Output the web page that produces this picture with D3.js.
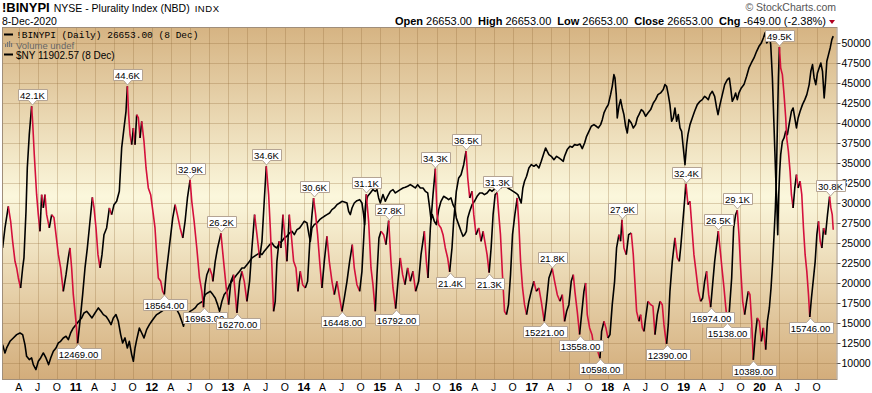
<!DOCTYPE html>
<html>
<head>
<meta charset="utf-8">
<script src="https://cdn.jsdelivr.net/npm/d3@7"></script>
<style>
  body { margin: 0; background: #fff; }
  text { font-family: "Liberation Sans", Arial, sans-serif; }
</style>
</head>
<body>
<div id="chart"></div>
<script>
// !BINYPI plurality index, dates as decimal years
var binTimes = [
  2010.035, 2010.066, 2010.110, 2010.141, 2010.167, 2010.198, 2010.220, 2010.242, 2010.272, 2010.299,
  2010.316, 2010.343, 2010.360, 2010.386, 2010.417, 2010.430, 2010.452, 2010.483, 2010.505, 2010.527,
  2010.549, 2010.571, 2010.593, 2010.615, 2010.650, 2010.681, 2010.711, 2010.738, 2010.769, 2010.799,
  2010.834, 2010.870, 2010.900, 2010.922, 2010.944, 2010.966, 2011.001, 2011.023, 2011.054, 2011.089,
  2011.120, 2011.151, 2011.177, 2011.217, 2011.239, 2011.265, 2011.291, 2011.318, 2011.344, 2011.370,
  2011.405, 2011.441, 2011.471, 2011.502, 2011.537, 2011.572, 2011.603, 2011.634, 2011.660, 2011.678,
  2011.695, 2011.713, 2011.735, 2011.757, 2011.779, 2011.801, 2011.823, 2011.845, 2011.867, 2011.897,
  2011.924, 2011.954, 2011.985, 2012.020, 2012.042, 2012.064, 2012.086, 2012.117, 2012.143, 2012.165,
  2012.187, 2012.218, 2012.249, 2012.275, 2012.306, 2012.336, 2012.372, 2012.407, 2012.437, 2012.468,
  2012.503, 2012.525, 2012.556, 2012.591, 2012.626, 2012.657, 2012.679, 2012.701, 2012.723, 2012.758,
  2012.789, 2012.802, 2012.833, 2012.864, 2012.908, 2012.943, 2012.978, 2013.009, 2013.039, 2013.074,
  2013.118, 2013.154, 2013.184, 2013.215, 2013.250, 2013.285, 2013.316, 2013.351, 2013.382, 2013.417,
  2013.448, 2013.478, 2013.505, 2013.536, 2013.558, 2013.580, 2013.601, 2013.623, 2013.645, 2013.672,
  2013.698, 2013.724, 2013.755, 2013.777, 2013.808, 2013.834, 2013.865, 2013.896, 2013.922, 2013.953,
  2013.984, 2014.019, 2014.049, 2014.076, 2014.107, 2014.128, 2014.155, 2014.181, 2014.208, 2014.238,
  2014.269, 2014.304, 2014.335, 2014.370, 2014.401, 2014.436, 2014.471, 2014.502, 2014.533, 2014.568,
  2014.603, 2014.638, 2014.664, 2014.699, 2014.735, 2014.765, 2014.796, 2014.822, 2014.853, 2014.884,
  2014.910, 2014.941, 2014.963, 2014.989, 2015.016, 2015.051, 2015.081, 2015.117, 2015.147, 2015.174,
  2015.209, 2015.240, 2015.270, 2015.301, 2015.332, 2015.367, 2015.402, 2015.437, 2015.472, 2015.512,
  2015.543, 2015.587, 2015.613, 2015.635, 2015.666, 2015.701, 2015.732, 2015.754, 2015.776, 2015.806,
  2015.833, 2015.863, 2015.894, 2015.920, 2015.951, 2015.973, 2016.008, 2016.039, 2016.070, 2016.105,
  2016.136, 2016.158, 2016.184, 2016.215, 2016.237, 2016.267, 2016.303, 2016.333, 2016.360, 2016.390,
  2016.412, 2016.439, 2016.465, 2016.491, 2016.518, 2016.544, 2016.566, 2016.588, 2016.614, 2016.641,
  2016.667, 2016.693, 2016.720, 2016.746, 2016.777, 2016.808, 2016.830, 2016.852, 2016.878, 2016.904,
  2016.931, 2016.961, 2016.992, 2017.027, 2017.058, 2017.093, 2017.124, 2017.163, 2017.194, 2017.225,
  2017.269, 2017.300, 2017.335, 2017.370, 2017.401, 2017.431, 2017.458, 2017.488, 2017.519, 2017.546,
  2017.567, 2017.598, 2017.629, 2017.655, 2017.686, 2017.708, 2017.730, 2017.761, 2017.792, 2017.818,
  2017.849, 2017.875, 2017.897, 2017.919, 2017.950, 2017.976, 2018.002, 2018.029, 2018.059, 2018.090,
  2018.116, 2018.147, 2018.169, 2018.187, 2018.213, 2018.244, 2018.275, 2018.310, 2018.336, 2018.354,
  2018.380, 2018.411, 2018.433, 2018.455, 2018.477, 2018.499, 2018.529, 2018.565, 2018.595, 2018.622,
  2018.652, 2018.688, 2018.718, 2018.740, 2018.762, 2018.775, 2018.797, 2018.819, 2018.850, 2018.885,
  2018.916, 2018.942, 2018.960, 2018.982, 2019.004, 2019.030, 2019.056, 2019.083, 2019.109, 2019.135,
  2019.162, 2019.193, 2019.223, 2019.250, 2019.276, 2019.302, 2019.329, 2019.355, 2019.381, 2019.408,
  2019.434, 2019.456, 2019.478, 2019.504, 2019.531, 2019.553, 2019.575, 2019.601, 2019.632, 2019.658,
  2019.684, 2019.706, 2019.728, 2019.750, 2019.777, 2019.803, 2019.829, 2019.851, 2019.873, 2019.895,
  2019.917, 2019.944, 2019.970, 2019.996, 2020.023, 2020.049, 2020.080, 2020.102, 2020.128, 2020.150,
  2020.172, 2020.190, 2020.207, 2020.220, 2020.233, 2020.247, 2020.260, 2020.277, 2020.299, 2020.321,
  2020.343, 2020.356, 2020.378, 2020.400, 2020.418, 2020.440, 2020.462, 2020.484, 2020.506, 2020.532,
  2020.554, 2020.576, 2020.598, 2020.620, 2020.642, 2020.659, 2020.681, 2020.708, 2020.730, 2020.752,
  2020.774, 2020.796, 2020.818, 2020.840, 2020.866, 2020.892, 2020.919, 2020.936, 2020.954, 2020.967
];
var binValues = [
  24380, 26880, 29580, 27710, 25210, 22710, 21880, 20630, 19380, 21880,
  23130, 28960, 34380, 38540, 42100, 40210, 36040, 31040, 28540, 26460,
  31040, 29380, 31040, 28540, 26880, 28540, 28200, 26040, 23540, 21880,
  18960, 21040, 23130, 24380, 21880, 18540, 15210, 12469, 15210, 18540,
  21880, 24380, 26880, 30710, 29380, 26880, 23540, 21880, 23540, 26040,
  26880, 29380, 28540, 29790, 30210, 31460, 36880, 39380, 41460, 44600,
  41040, 38540, 37290, 39380, 37290, 41040, 40630, 38130, 40210, 37710,
  34380, 31880, 31040, 28540, 26880, 23540, 20630, 20210, 18960, 18564,
  21040, 23540, 26040, 28130, 29790, 28540, 26880, 25630, 27710, 30630,
  32900, 30210, 27710, 24380, 20630, 18960, 16963, 19790, 21040, 21880,
  21040, 20210, 22710, 24380, 26200, 22710, 19380, 17290, 20210, 21040,
  16270, 20210, 21460, 20210, 17710, 20210, 24380, 28540, 26040, 23130,
  25210, 30210, 34600, 31040, 26880, 21880, 16460, 17710, 22710, 25210,
  24380, 28540, 25210, 22710, 28540, 26040, 22710, 21880, 18960, 21460,
  19790, 19380, 20210, 24790, 28540, 30600, 28540, 26040, 22710, 19380,
  22710, 25830, 22710, 20210, 18540, 20210, 18130, 16448, 18130, 20210,
  22710, 24790, 21880, 19790, 18960, 21460, 26880, 31100, 27710, 21880,
  19790, 16460, 21040, 25630, 26460, 26040, 24790, 27800, 22710, 19380,
  16792, 20210, 23130, 21040, 19790, 21880, 20210, 21460, 18960, 20210,
  23540, 26460, 22710, 20630, 26880, 31040, 34300, 28540, 27290, 26880,
  26040, 24380, 23130, 21400, 24380, 27710, 31460, 33130, 33540, 34790,
  36500, 33130, 30630, 31460, 28540, 26040, 26880, 25210, 26460, 24790,
  23540, 21300, 24380, 28540, 31040, 31300, 28540, 26040, 21040, 16460,
  16040, 17290, 21040, 26040, 28540, 30630, 27290, 22710, 19380, 17290,
  16040, 17710, 18960, 20210, 18960, 19380, 17710, 15221, 17710, 20630,
  21800, 20210, 18540, 17710, 18540, 15210, 16460, 17290, 20210, 21040,
  18960, 16460, 13558, 16040, 18960, 20000, 16040, 14380, 13540, 11880,
  12290, 11250, 10598, 13960, 15210, 14380, 13130, 13540, 17290, 20210,
  24380, 26040, 25210, 27900, 24380, 23540, 26040, 26250, 23540, 20630,
  16460, 15210, 16040, 14380, 13960, 15630, 17710, 17290, 17100, 13540,
  16040, 17710, 17290, 14790, 13130, 12390, 14790, 18960, 22710, 25630,
  23130, 22710, 24380, 26880, 29380, 32400, 29790, 30210, 26880, 23540,
  21460, 18960, 17710, 18130, 20210, 21460, 18540, 16974, 19790, 22710,
  24790, 26500, 24380, 21880, 19380, 17080, 15138, 16460, 20630, 26880,
  28540, 29100, 26040, 21880, 17710, 16040, 17710, 18960, 18540, 15210,
  10389, 13540, 15630, 15210, 12710, 14380, 11670, 15210, 16880, 19380,
  22710, 26040, 29380, 33130, 39380, 45630, 49500, 46880, 46040, 43540,
  40630, 38130, 36460, 33960, 31040, 29380, 31880, 33540, 31880, 32710,
  31040, 26880, 23540, 21460, 18540, 15746, 18130, 20630, 22710, 26040,
  27710, 25210, 24380, 26880, 26040, 28540, 30800, 29380, 28540, 26653
];

// $NY overlay, own (hidden) scale
var nyTimes = [
  2010.035, 2010.066, 2010.088, 2010.132, 2010.176, 2010.220, 2010.264, 2010.299, 2010.329, 2010.351,
  2010.386, 2010.417, 2010.439, 2010.474, 2010.505, 2010.536, 2010.571, 2010.606, 2010.641, 2010.668,
  2010.703, 2010.738, 2010.769, 2010.799, 2010.834, 2010.870, 2010.900, 2010.931, 2010.966, 2011.001,
  2011.037, 2011.076, 2011.107, 2011.142, 2011.177, 2011.212, 2011.252, 2011.296, 2011.331, 2011.362,
  2011.397, 2011.427, 2011.463, 2011.493, 2011.528, 2011.559, 2011.590, 2011.616, 2011.647, 2011.678,
  2011.704, 2011.735, 2011.757, 2011.779, 2011.801, 2011.836, 2011.867, 2011.897, 2011.932, 2011.968,
  2011.998, 2012.029, 2012.064, 2012.099, 2012.130, 2012.161, 2012.196, 2012.231, 2012.262, 2012.293,
  2012.328, 2012.363, 2012.394, 2012.416, 2012.438, 2012.468, 2012.503, 2012.539, 2012.569, 2012.600,
  2012.635, 2012.670, 2012.701, 2012.732, 2012.767, 2012.802, 2012.833, 2012.864, 2012.890, 2012.921,
  2012.951, 2012.987, 2013.022, 2013.052, 2013.083, 2013.118, 2013.154, 2013.184, 2013.215, 2013.250,
  2013.285, 2013.316, 2013.347, 2013.382, 2013.417, 2013.448, 2013.478, 2013.514, 2013.549, 2013.580,
  2013.610, 2013.645, 2013.681, 2013.711, 2013.742, 2013.777, 2013.812, 2013.843, 2013.874, 2013.909,
  2013.944, 2013.975, 2014.005, 2014.041, 2014.067, 2014.085, 2014.107, 2014.137, 2014.172, 2014.208,
  2014.238, 2014.269, 2014.304, 2014.339, 2014.370, 2014.401, 2014.436, 2014.471, 2014.502, 2014.533,
  2014.568, 2014.590, 2014.612, 2014.634, 2014.664, 2014.699, 2014.735, 2014.765, 2014.787, 2014.800,
  2014.814, 2014.840, 2014.875, 2014.910, 2014.941, 2014.963, 2014.985, 2015.007, 2015.042, 2015.073,
  2015.103, 2015.139, 2015.174, 2015.205, 2015.235, 2015.270, 2015.305, 2015.336, 2015.367, 2015.402,
  2015.437, 2015.468, 2015.499, 2015.534, 2015.569, 2015.600, 2015.631, 2015.657, 2015.675, 2015.692,
  2015.718, 2015.745, 2015.776, 2015.806, 2015.841, 2015.877, 2015.907, 2015.938, 2015.964, 2015.986,
  2016.008, 2016.039, 2016.070, 2016.096, 2016.118, 2016.140, 2016.158, 2016.184, 2016.215, 2016.246,
  2016.281, 2016.316, 2016.347, 2016.377, 2016.412, 2016.448, 2016.478, 2016.500, 2016.522, 2016.553,
  2016.588, 2016.623, 2016.654, 2016.685, 2016.720, 2016.755, 2016.786, 2016.816, 2016.843, 2016.860,
  2016.882, 2016.904, 2016.931, 2016.961, 2016.992, 2017.027, 2017.058, 2017.093, 2017.124, 2017.159,
  2017.181, 2017.203, 2017.225, 2017.256, 2017.291, 2017.326, 2017.357, 2017.387, 2017.414, 2017.431,
  2017.466, 2017.502, 2017.532, 2017.563, 2017.598, 2017.633, 2017.664, 2017.695, 2017.721, 2017.752,
  2017.783, 2017.818, 2017.849, 2017.875, 2017.906, 2017.928, 2017.950, 2017.980, 2018.007, 2018.037,
  2018.059, 2018.081, 2018.095, 2018.112, 2018.125, 2018.147, 2018.169, 2018.191, 2018.213, 2018.235,
  2018.257, 2018.279, 2018.310, 2018.336, 2018.367, 2018.389, 2018.411, 2018.442, 2018.468, 2018.499,
  2018.529, 2018.565, 2018.600, 2018.630, 2018.661, 2018.696, 2018.731, 2018.753, 2018.775, 2018.797,
  2018.819, 2018.841, 2018.863, 2018.885, 2018.907, 2018.929, 2018.951, 2018.973, 2018.995, 2019.017,
  2019.039, 2019.056, 2019.083, 2019.113, 2019.144, 2019.179, 2019.215, 2019.245, 2019.276, 2019.302,
  2019.324, 2019.346, 2019.377, 2019.408, 2019.434, 2019.452, 2019.478, 2019.509, 2019.540, 2019.575,
  2019.601, 2019.619, 2019.640, 2019.662, 2019.684, 2019.706, 2019.728, 2019.759, 2019.794, 2019.829,
  2019.860, 2019.891, 2019.926, 2019.961, 2019.992, 2020.023, 2020.049, 2020.071, 2020.093, 2020.111,
  2020.128, 2020.146, 2020.168, 2020.190, 2020.212, 2020.225, 2020.238, 2020.251, 2020.264, 2020.277,
  2020.299, 2020.321, 2020.343, 2020.365, 2020.387, 2020.418, 2020.440, 2020.462, 2020.484, 2020.506,
  2020.532, 2020.563, 2020.594, 2020.620, 2020.651, 2020.673, 2020.695, 2020.716, 2020.738, 2020.760,
  2020.782, 2020.804, 2020.826, 2020.848, 2020.866, 2020.883, 2020.905, 2020.927, 2020.949, 2020.967
];
var nyValues = [
  4792, 4600, 4715, 4869, 4946, 5023, 5061, 5023, 4792, 4524,
  4447, 4485, 4331, 4216, 4408, 4485, 4600, 4485, 4331, 4485,
  4638, 4715, 4831, 4869, 4946, 4984, 4907, 5061, 5176, 5253,
  5330, 5407, 5522, 5560, 5484, 5407, 5522, 5638, 5560, 5484,
  5445, 5368, 5253, 5407, 5484, 5330, 5023, 4831, 4946, 4715,
  4869, 4562, 4408, 4715, 4907, 5176, 5061, 4946, 5138, 5253,
  5330, 5407, 5484, 5522, 5560, 5599, 5599, 5638, 5676, 5638,
  5599, 5484, 5330, 5215, 5407, 5484, 5560, 5599, 5638, 5714,
  5753, 5791, 5945, 5983, 6021, 5945, 5868, 5714, 5560, 5791,
  5945, 6021, 6175, 6252, 6329, 6406, 6482, 6559, 6559, 6636,
  6713, 6790, 6828, 6867, 6905, 6867, 6943, 7020, 7097, 7135,
  7059, 7020, 7135, 7174, 7251, 7289, 7366, 7404, 7328, 7443,
  7481, 7558, 7635, 7597, 7328, 7174, 7481, 7558, 7597, 7673,
  7712, 7750, 7789, 7827, 7904, 7942, 8019, 8057, 8096, 8081,
  8057, 7865, 7789, 7942, 8057, 8111, 8134, 8057, 7789, 7558,
  8019, 8211, 8288, 8365, 8326, 8365, 8173, 8057, 8250, 8096,
  8211, 8326, 8365, 8288, 8326, 8365, 8403, 8419, 8442, 8480,
  8442, 8403, 8480, 8403, 8403, 8326, 8288, 7942, 7673, 7789,
  7635, 7558, 7904, 8096, 8211, 8173, 8134, 8173, 8019, 7942,
  7712, 7558, 7404, 7289, 7328, 7404, 7712, 7865, 8019, 8096,
  8211, 8288, 8288, 8250, 8288, 8365, 8326, 8365, 8403, 8442,
  8403, 8442, 8442, 8403, 8365, 8326, 8288, 8250, 8134, 8057,
  8403, 8557, 8672, 8864, 8941, 8903, 8941, 8864, 9018, 9210,
  9325, 9248, 9171, 9133, 9056, 9133, 9095, 9056, 9018, 9133,
  9287, 9364, 9341, 9402, 9387, 9417, 9310, 9440, 9594, 9709,
  9825, 9863, 9825, 9786, 9863, 9978, 10132, 10247, 10324, 10554,
  10746, 11015, 10938, 10554, 10017, 10286, 10439, 10247, 10093, 9825,
  9671, 9978, 9901, 9786, 9863, 10017, 10093, 10209, 10170, 10055,
  10132, 10209, 10362, 10439, 10554, 10593, 10670, 10785, 10747, 10554,
  10324, 9940, 10017, 10247, 9940, 10093, 9786, 9709, 9325, 8941,
  9402, 9632, 9863, 10017, 10170, 10324, 10401, 10439, 10516, 10478,
  10439, 10554, 10631, 10516, 10247, 10093, 10324, 10554, 10785, 10900,
  10938, 10708, 10401, 10478, 10593, 10439, 10593, 10708, 10785, 10977,
  11169, 11284, 11400, 11553, 11668, 11745, 11861, 11976, 11745, 11784,
  11937, 11707, 10939, 9786, 8634, 8096, 7327, 8250, 8787, 9171,
  9479, 9556, 9709, 9632, 9863, 10170, 10247, 10017, 9786, 10017,
  10170, 10324, 10439, 10554, 10785, 11092, 11246, 10939, 10785, 11054,
  11169, 11284, 11092, 10478, 10862, 11323, 11476, 11630, 11822, 11903
];

// annotated highs and lows
var calloutTimes = [2010.417, 2011.678, 2012.503, 2012.908, 2013.505, 2014.128, 2014.822, 2015.117, 2015.732,
  2016.136, 2016.544, 2017.269, 2018.187, 2019.030, 2019.456, 2019.706, 2020.260, 2020.919,
  2011.023, 2012.165, 2012.679, 2013.118, 2014.502, 2015.209, 2015.920, 2016.439, 2017.163,
  2017.629, 2017.897, 2018.775, 2019.355, 2019.575, 2019.917, 2020.659];
var calloutValues = [42100, 44600, 32900, 26200, 34600, 30600, 31100, 27800, 34300,
  36500, 31300, 21800, 27900, 32400, 26500, 29100, 49500, 30800,
  12469, 18564, 16963, 16270, 16448, 16792, 21400, 21300, 15221,
  13558, 10598, 12390, 16974, 15138, 10389, 15746];
var calloutTexts = ["42.1K", "44.6K", "32.9K", "26.2K", "34.6K", "30.6K", "31.1K", "27.8K", "34.3K",
  "36.5K", "31.3K", "21.8K", "27.9K", "32.4K", "26.5K", "29.1K", "49.5K", "30.8K",
  "12469.00", "18564.00", "16963.00", "16270.00", "16448.00", "16792.00", "21.4K", "21.3K", "15221.00",
  "13558.00", "10598.00", "12390.00", "16974.00", "15138.00", "10389.00", "15746.00"];
var calloutSides = ["top", "top", "top", "top", "top", "top", "top", "top", "top",
  "top", "top", "top", "top", "top", "top", "top", "top", "top",
  "bottom", "bottom", "bottom", "bottom", "bottom", "bottom", "bottom", "bottom", "bottom",
  "bottom", "bottom", "bottom", "bottom", "bottom", "bottom", "bottom"];

var yTickValues = [10000, 12500, 15000, 17500, 20000, 22500, 25000, 27500, 30000, 32500,
  35000, 37500, 40000, 42500, 45000, 47500, 50000];
var quarterLetters = ["", "A", "J", "O"];

var headerStats = [["Open", "26653.00"], ["High", "26653.00"], ["Low", "26653.00"],
  ["Close", "26653.00"], ["Chg", "-649.00 (-2.38%)"]];

// set up basic svg
var svgWidth = 872;
var svgHeight = 393;
var plot = { left: 3, right: 836.5, top: 28, bottom: 379 };

var svg = d3.select("#chart")
  .append("svg")
  .attr("width", svgWidth)
  .attr("height", svgHeight);

// decimal year -> Date
function toDate(t) {
  var yr = Math.floor(t);
  var start = new Date(yr, 0, 1), end = new Date(yr + 1, 0, 1);
  return new Date(+start + (t - yr) * (end - start));
}

var x = d3.scaleTime()
  .domain([toDate(2010.04), toDate(2021.01)])
  .range([plot.left, plot.right]);

var y = d3.scaleLinear()
  .domain([8000, 51875])
  .range([plot.bottom, plot.top]);

var yNY = d3.scaleLinear()
  .domain([4000, 12090])
  .range([plot.bottom, plot.top]);

// background gradient
var defs = svg.append("defs");
var grad = defs.append("linearGradient")
  .attr("id", "bg")
  .attr("x1", 0).attr("y1", 0).attr("x2", 0).attr("y2", 1);
grad.append("stop").attr("offset", "0%").attr("stop-color", "#d6b483");
grad.append("stop").attr("offset", "48%").attr("stop-color", "#fbf7dc");
grad.append("stop").attr("offset", "100%").attr("stop-color", "#d3ad7b");

defs.append("clipPath").attr("id", "plotclip")
  .append("rect")
  .attr("x", plot.left).attr("y", plot.top)
  .attr("width", plot.right - plot.left).attr("height", plot.bottom - plot.top);

svg.append("rect")
  .attr("x", plot.left).attr("y", plot.top)
  .attr("width", plot.right - plot.left).attr("height", plot.bottom - plot.top)
  .attr("fill", "url(#bg)");

// grid (quarterly verticals, keep the ones inside the plot)
var quarterTicks = x.ticks(d3.timeMonth.every(3)).filter(d => x(d) < plot.right - 4);
var grid = svg.append("g").attr("stroke", "rgba(140,100,50,0.28)").attr("stroke-width", 1);
grid.selectAll("line.v")
  .data(quarterTicks)
  .enter()
  .append("line")
  .attr("x1", d => Math.round(x(d)) + 0.5)
  .attr("x2", d => Math.round(x(d)) + 0.5)
  .attr("y1", plot.top)
  .attr("y2", plot.bottom);
grid.selectAll("line.h")
  .data(yTickValues)
  .enter()
  .append("line")
  .attr("x1", plot.left)
  .attr("x2", plot.right)
  .attr("y1", d => Math.round(y(d)) + 0.5)
  .attr("y2", d => Math.round(y(d)) + 0.5);

// x axis labels
svg.append("g")
  .selectAll("text")
  .data(quarterTicks)
  .enter()
  .append("text")
  .attr("x", d => x(d))
  .attr("y", 391)
  .attr("text-anchor", "middle")
  .attr("font-size", d => d.getMonth() === 0 ? 11.5 : 10.5)
  .attr("font-weight", d => d.getMonth() === 0 ? "bold" : "normal")
  .text(d => d.getMonth() === 0 ? d3.timeFormat("%y")(d) : quarterLetters[d.getMonth() / 3]);

// right axis
var rightAxis = d3.axisRight(y)
  .tickValues(yTickValues)
  .tickSize(4)
  .tickFormat(d3.format("d"));
var yAxisG = svg.append("g")
  .attr("transform", `translate(${plot.right}, 0)`)
  .call(rightAxis);
yAxisG.select(".domain").remove();
yAxisG.selectAll("line").attr("stroke", "#555");
yAxisG.selectAll("text")
  .attr("x", 5)
  .attr("font-size", 10.5)
  .attr("fill", "#000");

// $NY line
var lines = svg.append("g").attr("clip-path", "url(#plotclip)");
var nyData = nyTimes.map((t, i) => ({ t: toDate(t), v: nyValues[i] }));
lines.append("path")
  .datum(nyData)
  .attr("d", d3.line().x(d => x(d.t)).y(d => yNY(d.v)))
  .attr("fill", "none")
  .attr("stroke", "#000")
  .attr("stroke-width", 1.6)
  .attr("stroke-linejoin", "round");

// !BINYPI line, black when rising, red when falling
var binData = binTimes.map((t, i) => ({ t: toDate(t), v: binValues[i] }));
var runs = [];
for (var i = 1; i < binData.length; i++) {
  var up = binData[i].v > binData[i - 1].v;
  var last = runs[runs.length - 1];
  if (last && last.up === up) {
    last.pts.push(binData[i]);
  } else {
    runs.push({ up: up, pts: [binData[i - 1], binData[i]] });
  }
}
var binLine = d3.line().x(d => x(d.t)).y(d => y(d.v));
lines.selectAll("path.bin")
  .data(runs)
  .enter()
  .append("path")
  .attr("class", "bin")
  .attr("d", d => binLine(d.pts))
  .attr("fill", "none")
  .attr("stroke", d => d.up ? "#000" : "#d4103c")
  .attr("stroke-width", 1.6)
  .attr("stroke-linejoin", "round");

// callouts for highs and lows
function drawCallout(t, v, label, side) {
  var px = Math.round(x(toDate(t))) + 0.5, py = Math.round(y(v));
  var g = svg.append("g");
  var txt = g.append("text")
    .attr("x", px)
    .attr("text-anchor", "middle")
    .attr("font-size", 9.5)
    .text(label);
  var tw = txt.node().getComputedTextLength();
  var bw = Math.round(tw + 4), bh = 11;
  var l = Math.round(px - bw / 2) + 0.5, r = l + bw;
  var d;
  if (side === "top") {
    var bot = py - 5.5, top = bot - bh;
    d = `M${l},${top}H${r}V${bot}H${px + 4}L${px},${py - 1}L${px - 4},${bot}H${l}Z`;
    txt.attr("y", bot - 2);
  } else {
    var top2 = py + 5.5, bot2 = top2 + bh;
    d = `M${l},${top2}H${px - 4}L${px},${py + 1}L${px + 4},${top2}H${r}V${bot2}H${l}Z`;
    txt.attr("y", bot2 - 2);
  }
  g.insert("path", "text")
    .attr("d", d)
    .attr("fill", "#fff")
    .attr("stroke", "#b4a494");
}
calloutTimes.forEach(function (t, i) {
  drawCallout(t, calloutValues[i], calloutTexts[i], calloutSides[i]);
});

// plot border
svg.append("rect")
  .attr("x", plot.left - 0.5).attr("y", plot.top - 0.5)
  .attr("width", plot.right - plot.left + 1).attr("height", plot.bottom - plot.top + 1)
  .attr("fill", "none")
  .attr("stroke", "#a08e7a");

// legend inside plot
var legend = svg.append("g");
legend.append("line").attr("x1", 4).attr("x2", 13).attr("y1", 34.5).attr("y2", 34.5)
  .attr("stroke", "#000").attr("stroke-width", 2);
legend.append("text").attr("x", 16).attr("y", 37.5)
  .style("font-family", "'Liberation Mono', 'DejaVu Sans Mono', monospace")
  .attr("font-size", 9.5)
  .text("!BINYPI (Daily) 26653.00 (8 Dec)");
[0, 1, 2, 3].forEach(function (k) {
  var h = [3, 5, 6, 4][k];
  legend.append("rect")
    .attr("x", 5 + k * 2).attr("y", 47 - h)
    .attr("width", 1.2).attr("height", h)
    .attr("fill", "#777");
});
legend.append("text").attr("x", 16).attr("y", 48.5)
  .attr("font-size", 9.5).attr("fill", "#666")
  .text("Volume undef");
legend.append("line").attr("x1", 4).attr("x2", 13).attr("y1", 54.5).attr("y2", 54.5)
  .attr("stroke", "#000").attr("stroke-width", 2);
legend.append("text").attr("x", 16).attr("y", 58.5)
  .attr("font-size", 10)
  .text("$NY 11902.57 (8 Dec)");

// header
var title = svg.append("text").attr("x", 2).attr("y", 12);
title.append("tspan").attr("font-weight", "bold").attr("font-size", 13).text("!BINYPI");
title.append("tspan").attr("font-size", 10.5).attr("dx", 4).text("NYSE - Plurality Index (NBD)");
title.append("tspan").attr("font-size", 9.5).attr("dx", 5).attr("letter-spacing", 0.6).text("INDX");

svg.append("text").attr("x", 2).attr("y", 25).attr("font-size", 10.5).text("8-Dec-2020");

svg.append("text").attr("x", 836).attr("y", 11)
  .attr("text-anchor", "end").attr("font-size", 10.5).attr("fill", "#555")
  .text("\u00A9 StockCharts.com");

var stats = svg.append("text").attr("x", 826).attr("y", 25)
  .attr("text-anchor", "end").attr("font-size", 11);
headerStats.forEach(function (s, i) {
  stats.append("tspan").attr("font-weight", "bold").attr("dx", i === 0 ? 0 : 6).text(s[0]);
  stats.append("tspan").attr("dx", 3).text(s[1]);
});
svg.append("path")
  .attr("d", "M829,20L835,20L832,24Z")
  .attr("fill", "#b00020");
</script>
</body>
</html>
